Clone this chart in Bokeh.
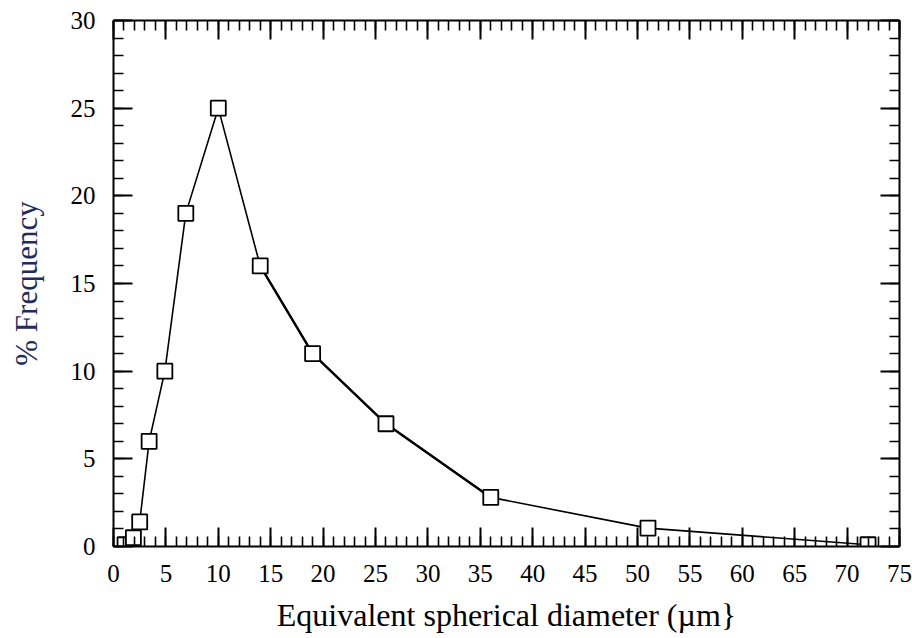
from bokeh.plotting import figure
from bokeh.models import LinearAxis, SingleIntervalTicker, Range1d, ColumnDataSource, CustomJSTickFormatter
from bokeh.embed import file_html
from bokeh.resources import INLINE

# Data
diameter_um = [1.1, 1.9, 2.5, 3.4, 4.9, 6.9, 10.0, 14.0, 19.0, 26.0, 36.0, 51.0, 72.0]
frequency_pct = [0.1, 0.5, 1.4, 6.0, 10.0, 19.0, 25.0, 16.0, 11.0, 7.0, 2.8, 1.05, 0.1]

x_label = "Equivalent spherical diameter (\u00b5m}"
y_label = "% Frequency"

FONT = "Liberation Serif"

p = figure(width=912, height=638, output_backend="svg", toolbar_location=None,
           x_range=Range1d(0, 75), y_range=Range1d(0, 30),
           x_axis_location=None, y_axis_location=None,
           min_border_left=113, min_border_right=13, min_border_top=20, min_border_bottom=92)
p.grid.visible = False
p.outline_line_color = None
p.background_fill_color = "white"
p.border_fill_color = "white"


def style_axis(ax, show_labels):
    ax.ticker = SingleIntervalTicker(interval=5, num_minor_ticks=5)
    ax.axis_line_width = 2
    ax.axis_line_color = "black"
    ax.major_tick_in = 19
    ax.major_tick_out = 0
    ax.minor_tick_in = 10
    ax.minor_tick_out = 0
    ax.major_tick_line_width = 2
    ax.minor_tick_line_width = 1.6
    ax.major_tick_line_color = "black"
    ax.minor_tick_line_color = "black"
    ax.major_label_text_font = FONT
    ax.major_label_text_color = "black"
    ax.major_label_text_font_size = "25px"
    if show_labels:
        ax.major_label_standoff = 18
    else:
        ax.formatter = CustomJSTickFormatter(code="return '';")
        ax.major_label_standoff = 0


xb = LinearAxis()
style_axis(xb, True)
xb.axis_label = x_label
xb.axis_label_text_font = FONT
xb.axis_label_text_font_size = "32px"
xb.axis_label_text_font_style = "normal"
xb.axis_label_text_color = "black"
xb.axis_label_standoff = 12
p.add_layout(xb, "below")

yl = LinearAxis()
style_axis(yl, True)
yl.axis_label = y_label
yl.axis_label_text_font = FONT
yl.axis_label_text_font_size = "31px"
yl.axis_label_text_font_style = "normal"
yl.axis_label_text_color = "#1f2d5c"
yl.axis_label_standoff = 24
p.add_layout(yl, "left")

xt = LinearAxis()
style_axis(xt, False)
p.add_layout(xt, "above")

yr = LinearAxis()
style_axis(yr, False)
p.add_layout(yr, "right")

src = ColumnDataSource(dict(x=diameter_um, y=frequency_pct))
p.line("x", "y", source=src, line_color="black", line_width=1.6)
# slightly heavier stroke on the descending middle section, as in the reference
p.line(diameter_um[7:11], frequency_pct[7:11], line_color="black", line_width=2.4)
p.scatter("x", "y", source=src, marker="square", size=15, fill_color="white",
          line_color="black", line_width=1.8)

open("out.html", "w").write(file_html(p, INLINE))
